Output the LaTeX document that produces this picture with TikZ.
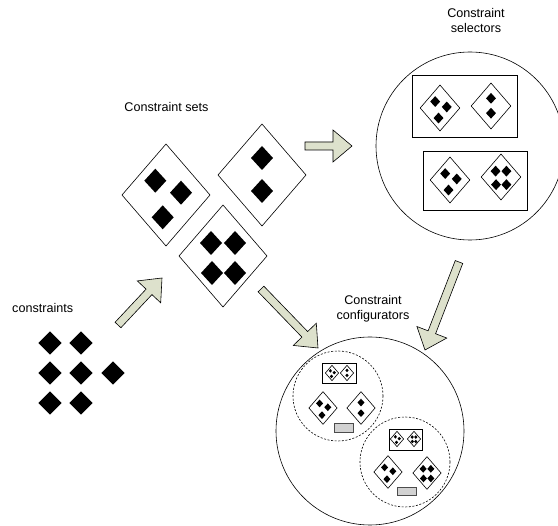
\documentclass[tikz,border=0pt]{standalone}
\usepackage{fontspec}
\setmainfont{Liberation Sans}
\usetikzlibrary{calc}
\definecolor{arrowfill}{RGB}{221,225,204}
\definecolor{boxgray}{RGB}{210,210,210}

% filled rhombus: centre x, centre y, half width, half height
\newcommand\rh[4]{\fill (#1,#2) ++(-#3,0) -- ++(#3,-#4) -- ++(#3,#4) -- ++(-#3,#4) -- cycle;}

% wide block arrow from a tail coordinate to a head coordinate
\newcommand\blockarrow[2]{%
  \coordinate (ba-b) at ($(#2)!19pt!(#1)$);
  \path[arrowshadow] ($(#1)!4pt!90:(#2)$) -- ($(ba-b)!4pt!90:(#2)$) -- ($(ba-b)!16pt!90:(#2)$) -- (#2)
     -- ($(ba-b)!16pt!-90:(#2)$) -- ($(ba-b)!4pt!-90:(#2)$) -- ($(#1)!4pt!-90:(#2)$) -- cycle;
  \path[arrowbody] ($(#1)!4pt!90:(#2)$) -- ($(ba-b)!4pt!90:(#2)$) -- ($(ba-b)!16pt!90:(#2)$) -- (#2)
     -- ($(ba-b)!16pt!-90:(#2)$) -- ($(ba-b)!4pt!-90:(#2)$) -- ($(#1)!4pt!-90:(#2)$) -- cycle;}

\tikzset{
  frame/.style={draw=black,fill=white,line width=0.6pt},
  holder/.style={draw=black,line width=0.6pt},
  group/.style={draw=black,line width=0.6pt,dash pattern=on 2pt off 1.6pt},
  slot/.style={draw=black!70,fill=boxgray,line width=0.6pt},
  arrowbody/.style={draw=black,fill=arrowfill,line width=0.6pt,line join=miter},
  arrowshadow/.style={fill=black!28,xshift=1pt,yshift=-1pt},
  label/.style={font=\fontsize{12.6}{15}\selectfont,align=center,inner sep=0pt},
  setA/.pic={\path[frame] (-44,0)--(0,-51)--(44,0)--(0,51)--cycle;
    \rh{-10.7}{-14.3}{11}{12}\rh{15}{-2.3}{11}{12}\rh{-3.3}{22.3}{11}{12}},
  setB/.pic={\path[frame] (-44,0)--(0,-51)--(44,0)--(0,51)--cycle;
    \rh{0}{-17}{11}{12}\rh{0}{16}{11}{12}},
  setC/.pic={\path[frame] (-44,0)--(0,-51)--(44,0)--(0,51)--cycle;
    \rh{-12}{-13}{11}{12}\rh{12}{-13}{11}{12}\rh{-11}{17}{11}{12}\rh{12}{17}{11}{12}},
}

\begin{document}
\begin{tikzpicture}[x=1pt,y=-1pt]
\useasboundingbox (0,0) rectangle (558,526);

% single constraints
\node[label,anchor=west] (lcons) at (12,308) {constraints};
\foreach \cx/\cy in {50/343,81/343,50/373,81/373,113/373,50/403,81/403}
  {\rh{\cx}{\cy}{11.7}{11.7}}

% constraint sets
\node[label] (lsets) at (166.5,107) {Constraint sets};
\pic at (166,195) {setA};
\pic at (262,175) {setB};
\pic at (223,256) {setC};

% constraint selectors
\node[label] (lsel) at (476,21) {Constraint\\selectors};
\draw[holder] (470,146) circle[radius=94];
\draw[holder,fill=white] (412,75) rectangle (517,137);
\pic[scale=0.45] at (440,108) {setA};
\pic[scale=0.45] at (491,106) {setB};
\draw[holder,fill=white] (423,151) rectangle (527,210);
\pic[scale=0.45] at (450,180) {setA};
\pic[scale=0.45] at (501,177) {setC};

% constraint configurators
\node[label] (lconf) at (373,309) {Constraint\\configurators};
\draw[holder] (370,431) circle[radius=94];
\draw[group] (338,396) circle[radius=45];
\draw[group] (405,462) circle[radius=45];

\draw[holder,fill=white] (322,363) rectangle (356,383);
\pic[scale=0.15] at (332,373) {setA};
\pic[scale=0.15] at (347,373) {setB};
\pic[scale=0.32] at (323,408) {setA};
\pic[scale=0.32] at (361,408) {setB};
\draw[slot] (334,423) rectangle (353,432);

\draw[holder,fill=white] (389,429) rectangle (422,450);
\pic[scale=0.15] at (397,439) {setA};
\pic[scale=0.15] at (414,439) {setC};
\pic[scale=0.32] at (388,472) {setA};
\pic[scale=0.32] at (427,473) {setC};
\draw[slot] (397,487) rectangle (416,495);

% flow arrows
\coordinate (a1t) at (118,325); \coordinate (a1h) at (162,278);
\coordinate (a2t) at (305,146); \coordinate (a2h) at (352,146);
\coordinate (a3t) at (261,289); \coordinate (a3h) at (318,348);
\coordinate (a4t) at (459,262); \coordinate (a4h) at (425,350);
\blockarrow{a1t}{a1h}
\blockarrow{a2t}{a2h}
\blockarrow{a3t}{a3h}
\blockarrow{a4t}{a4h}
\end{tikzpicture}
\end{document}
